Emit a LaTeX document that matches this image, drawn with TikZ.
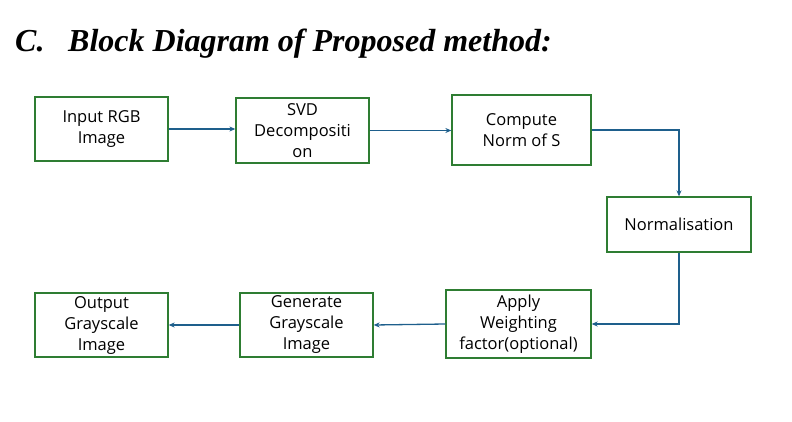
\documentclass[tikz,border=0pt]{standalone}
\usepackage{fontspec}
\setmainfont{Liberation Serif}
\newfontfamily\boxfont{Open Sans}
\usetikzlibrary{arrows.meta}
\definecolor{boxgreen}{RGB}{46,125,50}
\definecolor{arrowblue}{RGB}{30,95,140}
\tikzset{
  blk/.style={draw=boxgreen, line width=1.3pt, rectangle, align=center,
    font=\boxfont\fontsize{16.5}{21}\selectfont, inner sep=0pt},
  conn/.style={draw=arrowblue, line width=1.3pt, -{Stealth[length=6pt,width=5pt]}},
  ttl/.style={font=\bfseries\itshape\fontsize{32}{36}\selectfont, anchor=base west, inner sep=0pt}
}
\begin{document}
\begin{tikzpicture}[x=1pt,y=-1pt]
\useasboundingbox (0,0) rectangle (792,422);
\node[ttl] (tc) at (15,52) {C.};
\node[ttl] (tt) at (68,52) {Block Diagram of Proposed method:};

\node[blk, minimum width=133pt, minimum height=64pt] (inp) at (101.5,129) {Input RGB\\Image};
\node[blk, minimum width=133pt, minimum height=65pt] (svd) at (302.5,130.5) {SVD\\Decompositi\\on};
\node[blk, minimum width=139pt, minimum height=70pt] (cmp) at (521.5,130) {Compute\\Norm of S};
\node[blk, minimum width=144pt, minimum height=55pt] (nrm) at (679,224.5) {Normalisation};
\node[blk, minimum width=145pt, minimum height=68pt] (apl) at (518.5,324) {Apply\\Weighting\\factor(optional)};
\node[blk, minimum width=133pt, minimum height=64pt] (gen) at (306.5,325) {Generate\\Grayscale\\Image};
\node[blk, minimum width=133pt, minimum height=64pt] (out) at (101.5,325) {Output\\Grayscale\\Image};

\draw[conn] (inp.east) -- (svd.west |- inp.east);
\draw[conn] (svd.east) -- (cmp.west |- svd.east);
\draw[conn] (cmp.east) -| (nrm.north);
\draw[conn] (nrm.south) |- (apl.east);
\draw[conn] (apl.west) -- (gen.east);
\draw[conn] (gen.west) -- (out.east);
\end{tikzpicture}
\end{document}
